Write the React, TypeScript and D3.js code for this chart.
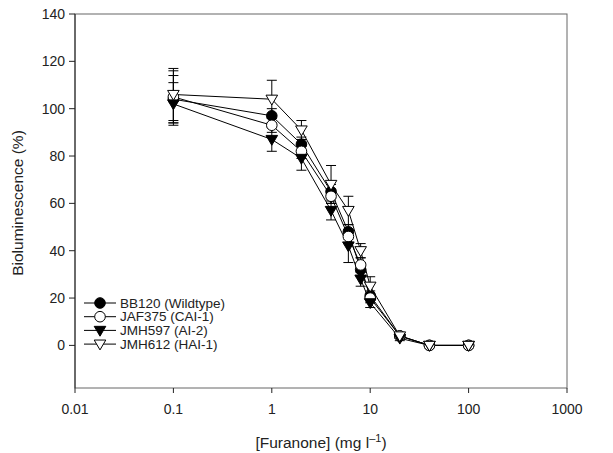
import { useEffect, useRef } from 'react';
import * as d3 from 'd3';

// furanone concentrations (mg/l)
const conc = [0.1, 1, 2, 4, 6, 8, 10, 20, 40, 100];

const bb120 = [104, 97, 85, 65, 48, 32, 21, 4, 0, 0];
const bb120Err = [10, 3, 3, 3, 3, 3, 2, 1, 0, 0];
const jaf375 = [105, 93, 82, 63, 46, 34, 20, 4, 0, 0];
const jaf375Err = [11, 3, 3, 3, 3, 3, 2, 1, 0, 0];
const jmh597 = [102, 87, 79, 57, 42, 28, 18, 3, 0, 0];
const jmh597Err = [9, 5, 5, 4, 7, 3, 2, 1, 0, 0];
const jmh612 = [106, 104, 91, 68, 57, 40, 25, 4, 0, 0];
const jmh612Err = [11, 8, 4, 8, 6, 3, 4, 1, 0, 0];

const seriesNames = ['BB120 (Wildtype)', 'JAF375 (CAI-1)', 'JMH597 (AI-2)', 'JMH612 (HAI-1)'];
const yTicks = [0, 20, 40, 60, 80, 100, 120, 140];
const xTicks = [0.01, 0.1, 1, 10, 100, 1000];

const W = 613;
const H = 453;
const M = { left: 75, right: 46, top: 14, bottom: 65 };
const FONT = 'Liberation Sans, Arial, sans-serif';

type Kind = 'dot' | 'circle' | 'tri' | 'otri';
const kinds: Kind[] = ['dot', 'circle', 'tri', 'otri'];

function drawMarker(g: d3.Selection<SVGGElement, unknown, null, undefined>, kind: Kind, x: number, y: number) {
  if (kind === 'dot' || kind === 'circle') {
    g.append('circle')
      .attr('cx', x).attr('cy', y).attr('r', 5.3)
      .attr('fill', kind === 'dot' ? '#000' : '#fff')
      .attr('stroke', '#000').attr('stroke-width', 1);
  } else {
    const s = 5.8;
    g.append('path')
      .attr('d', `M${x - s},${y - s * 0.7}L${x + s},${y - s * 0.7}L${x},${y + s * 1.0}Z`)
      .attr('fill', kind === 'tri' ? '#000' : '#fff')
      .attr('stroke', '#000').attr('stroke-width', 1);
  }
}

export default function App() {
  const ref = useRef<SVGSVGElement>(null);

  useEffect(() => {
    if (!ref.current) return;
    const svg = d3.select(ref.current);
    svg.selectAll('*').remove();

    const x = d3.scaleLog().domain([0.01, 1000]).range([M.left, W - M.right]);
    const y = d3.scaleLinear().domain([-18, 140]).range([H - M.bottom, M.top]);

    const root = svg.append('g');

    // frame
    root.append('rect')
      .attr('x', x(0.01)).attr('y', y(140))
      .attr('width', x(1000) - x(0.01)).attr('height', y(-18) - y(140))
      .attr('fill', 'none').attr('stroke', '#666').attr('stroke-width', 1);
    root.append('line')
      .attr('x1', x(0.01)).attr('x2', x(0.01)).attr('y1', y(140)).attr('y2', y(-18))
      .attr('stroke', '#222');

    // y ticks
    yTicks.forEach(t => {
      root.append('line').attr('x1', x(0.01) - 6).attr('x2', x(0.01))
        .attr('y1', y(t)).attr('y2', y(t)).attr('stroke', '#222');
      root.append('text').attr('x', x(0.01) - 10).attr('y', y(t)).attr('dy', '0.35em')
        .attr('text-anchor', 'end').attr('font-family', FONT).attr('font-size', 14)
        .attr('fill', '#222').text(t);
    });

    // x ticks
    xTicks.forEach(t => {
      root.append('line').attr('x1', x(t)).attr('x2', x(t))
        .attr('y1', y(-18)).attr('y2', y(-18) + 5).attr('stroke', '#222');
      root.append('text').attr('x', x(t)).attr('y', y(-18) + 26)
        .attr('text-anchor', 'middle').attr('font-family', FONT).attr('font-size', 14)
        .attr('fill', '#222').text(String(t));
    });

    // axis titles
    root.append('text')
      .attr('transform', `translate(23,${(y(140) + y(-18)) / 2 + 2}) rotate(-90)`)
      .attr('text-anchor', 'middle').attr('font-family', FONT).attr('font-size', 15.5)
      .attr('fill', '#222').text('Bioluminescence (%)');
    const xt = root.append('text')
      .attr('x', (x(0.01) + x(1000)) / 2).attr('y', H - 5)
      .attr('text-anchor', 'middle').attr('font-family', FONT).attr('font-size', 15.5)
      .attr('fill', '#222');
    xt.append('tspan').text('[Furanone] (mg l');
    xt.append('tspan').attr('dy', -6).attr('font-size', 11).text('\u20131');
    xt.append('tspan').attr('dy', 6).text(')');

    const values = [bb120, jaf375, jmh597, jmh612];
    const errs = [bb120Err, jaf375Err, jmh597Err, jmh612Err];

    const line = d3.line<number>().x((_, i) => x(conc[i])).y(d => y(d));

    // error bars
    values.forEach((vals, si) => {
      vals.forEach((v, i) => {
        const e = errs[si][i];
        if (e <= 0) return;
        const cx = x(conc[i]);
        root.append('line').attr('x1', cx).attr('x2', cx)
          .attr('y1', y(v - e)).attr('y2', y(v + e)).attr('stroke', '#000').attr('stroke-width', 1);
        [v - e, v + e].forEach(b => {
          root.append('line').attr('x1', cx - 5).attr('x2', cx + 5)
            .attr('y1', y(b)).attr('y2', y(b)).attr('stroke', '#000').attr('stroke-width', 1);
        });
      });
    });

    // lines
    values.forEach(vals => {
      root.append('path').attr('d', line(vals) || '')
        .attr('fill', 'none').attr('stroke', '#000').attr('stroke-width', 1);
    });

    // markers
    values.forEach((vals, si) => {
      const g = root.append('g');
      vals.forEach((v, i) => drawMarker(g, kinds[si], x(conc[i]), y(v)));
    });

    // legend
    const lg = root.append('g');
    seriesNames.forEach((name, i) => {
      const ly = 303 + i * 13.7;
      lg.append('line').attr('x1', 84).attr('x2', 116).attr('y1', ly).attr('y2', ly)
        .attr('stroke', '#000');
      drawMarker(lg, kinds[i], 100, ly);
      lg.append('text').attr('x', 120).attr('y', ly).attr('dy', '0.35em')
        .attr('font-family', FONT).attr('font-size', 13.5).attr('fill', '#222').text(name);
    });
  }, []);

  return (
    <svg ref={ref} width={W} height={H}
      style={{ position: 'absolute', left: 0, top: 0, background: '#fff' }} />
  );
}
